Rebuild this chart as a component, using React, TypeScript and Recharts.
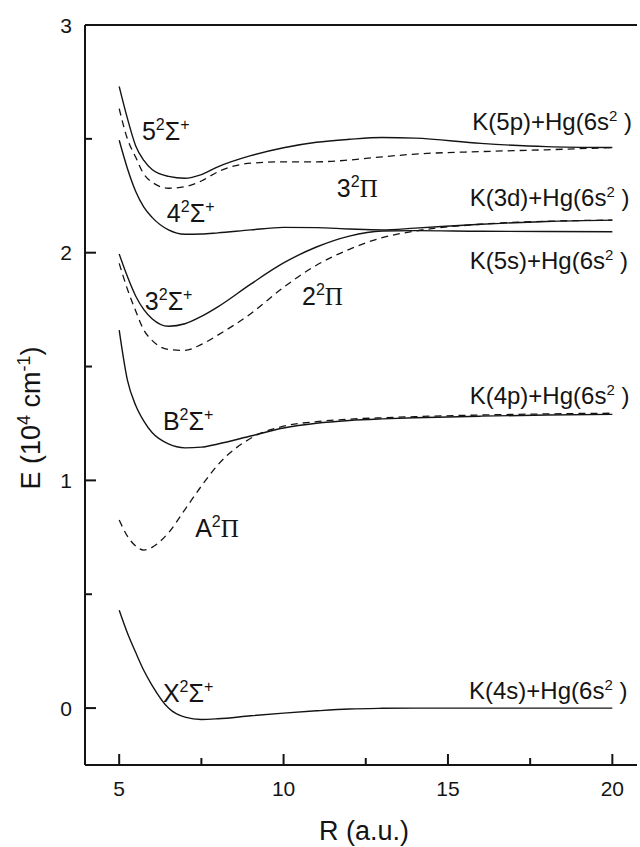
import { LineChart, Line, XAxis, YAxis, ReferenceLine, ReferenceDot } from 'recharts'

// internuclear distance R (a.u.)
const rGrid = [5, 5.25, 5.5, 5.75, 6, 6.5, 7, 7.5, 8, 9, 10, 11, 12, 13, 14, 16, 18, 20]

// potential energies, 10^4 cm^-1
const x2Sigma = [0.43, 0.33, 0.245, 0.165, 0.1, 0.0, -0.04, -0.05, -0.047, -0.034, -0.022, -0.012, -0.004, -0.001, 0, 0, 0, 0]
const a2Pi = [0.826, 0.755, 0.712, 0.694, 0.706, 0.77, 0.872, 0.975, 1.068, 1.185, 1.238, 1.258, 1.269, 1.275, 1.28, 1.287, 1.292, 1.295]
const b2Sigma = [1.66, 1.44, 1.33, 1.26, 1.21, 1.16, 1.143, 1.146, 1.16, 1.195, 1.23, 1.251, 1.263, 1.27, 1.275, 1.282, 1.287, 1.29]
const pi2 = [1.953, 1.84, 1.745, 1.66, 1.615, 1.575, 1.571, 1.597, 1.638, 1.732, 1.848, 1.945, 2.015, 2.066, 2.095, 2.125, 2.138, 2.143]
const sigma3 = [1.994, 1.895, 1.81, 1.75, 1.71, 1.677, 1.688, 1.72, 1.762, 1.862, 1.955, 2.025, 2.073, 2.095, 2.097, 2.094, 2.093, 2.092]
const sigma4 = [2.494, 2.37, 2.27, 2.2, 2.155, 2.1, 2.081, 2.082, 2.087, 2.1, 2.111, 2.11, 2.104, 2.1, 2.108, 2.125, 2.137, 2.143]
const pi3 = [2.633, 2.5, 2.42, 2.345, 2.31, 2.283, 2.29, 2.315, 2.355, 2.393, 2.399, 2.399, 2.407, 2.421, 2.433, 2.444, 2.452, 2.462]
const sigma5 = [2.73, 2.59, 2.47, 2.405, 2.365, 2.335, 2.327, 2.343, 2.377, 2.426, 2.461, 2.485, 2.498, 2.506, 2.503, 2.48, 2.466, 2.462]

const xTicks = [5, 7.5, 10, 12.5, 15, 17.5, 20]
const yTicks = [0, 0.5, 1, 1.5, 2, 2.5, 3]

// state names, anchored at (R, E) of the text baseline
const stateLabels = [
  { r: 5.69, e: 2.494, lead: '5', term: 'Σ', plus: true },
  { r: 6.45, e: 2.134, lead: '4', term: 'Σ', plus: true },
  { r: 11.62, e: 2.244, lead: '3', term: 'Π', plus: false },
  { r: 5.78, e: 1.748, lead: '3', term: 'Σ', plus: true },
  { r: 10.56, e: 1.77, lead: '2', term: 'Π', plus: false },
  { r: 6.33, e: 1.221, lead: 'B', term: 'Σ', plus: true },
  { r: 7.31, e: 0.751, lead: 'A', term: 'Π', plus: false },
  { r: 6.33, e: 0.026, lead: 'X', term: 'Σ', plus: true },
]

// dissociation limits
const limitLabels = [
  { r: 15.74, e: 2.538, atom: '5p' },
  { r: 15.66, e: 2.205, atom: '3d' },
  { r: 15.66, e: 1.928, atom: '5s' },
  { r: 15.66, e: 1.335, atom: '4p' },
  { r: 15.64, e: 0.04, atom: '4s' },
]

const data = rGrid.map((r, i) => ({
  r,
  x2Sigma: x2Sigma[i],
  a2Pi: a2Pi[i],
  b2Sigma: b2Sigma[i],
  pi2: pi2[i],
  sigma3: sigma3[i],
  sigma4: sigma4[i],
  pi3: pi3[i],
  sigma5: sigma5[i],
}))

const INK = '#141414'
const SANS = "'Liberation Sans', Arial, Helvetica, sans-serif"
const SERIF = "'Liberation Serif', 'Times New Roman', serif"

function StateText({ cx, cy, lead, term, plus }: any) {
  return (
    <text x={cx} y={cy} fontSize={25} fill={INK} fontFamily={SANS}>
      {lead}
      <tspan dy={-10} fontSize={16}>2</tspan>
      <tspan dy={10} fontFamily={term === 'Π' ? SERIF : SANS}>{term}</tspan>
      {plus && <tspan dy={-10} fontSize={16}>+</tspan>}
    </text>
  )
}

function LimitText({ cx, cy, atom }: any) {
  return (
    <text x={cx} y={cy} fontSize={24} fill={INK} fontFamily={SANS}>
      {`K(${atom})+Hg(6s`}
      <tspan dy={-9} fontSize={15}>2</tspan>
      <tspan dy={9}>{' )'}</tspan>
    </text>
  )
}

function YTick({ x, y, payload }: any) {
  const v = payload.value
  const major = Number.isInteger(v)
  return (
    <g>
      <line x1={x} x2={x + (major ? 11 : 7)} y1={y} y2={y} stroke={INK} strokeWidth={2} />
      {major && (
        <text x={x - 13} y={y + 7.5} textAnchor="end" fontSize={21} fill={INK} fontFamily={SANS}>
          {v}
        </text>
      )}
    </g>
  )
}

function XTick({ x, y, payload }: any) {
  const v = payload.value
  const major = v % 5 === 0
  return (
    <g>
      <line x1={x} x2={x} y1={y} y2={y - (major ? 11 : 7)} stroke={INK} strokeWidth={2} />
      {major && (
        <text x={x} y={y + 31} textAnchor="middle" fontSize={21} fill={INK} fontFamily={SANS}>
          {v}
        </text>
      )}
    </g>
  )
}

function XTitle({ viewBox }: any) {
  const { x, y, width } = viewBox
  return (
    <text x={x + width / 2 + 3} y={y + 75} textAnchor="middle" fontSize={27} fill={INK} fontFamily={SANS}>
      R (a.u.)
    </text>
  )
}

function YTitle({ viewBox }: any) {
  const { x, y, height } = viewBox
  const cx = x + 40
  const cy = y + height / 2 + 23
  return (
    <text
      x={cx}
      y={cy}
      transform={`rotate(-90, ${cx}, ${cy})`}
      textAnchor="middle"
      fontSize={27}
      fill={INK}
      fontFamily={SANS}
    >
      E (10
      <tspan dy={-10} fontSize={18}>4</tspan>
      <tspan dy={10}>{' cm'}</tspan>
      <tspan dy={-10} fontSize={18}>-1</tspan>
      <tspan dy={10}>)</tspan>
    </text>
  )
}

const solid = { stroke: INK, strokeWidth: 1.4 }
const dashed = { stroke: INK, strokeWidth: 1.3, strokeDasharray: '7 5' }

export default function App() {
  return (
    <div style={{ position: 'absolute', left: 0, top: 0, width: 640, height: 847, background: '#fff' }}>
      <LineChart width={640} height={847} data={data} margin={{ top: 25, right: 3, bottom: 0, left: 0 }}>
        <XAxis
          dataKey="r"
          type="number"
          domain={[3.96, 20.75]}
          ticks={xTicks}
          interval={0}
          height={82}
          tickSize={0}
          tickMargin={0}
          tickLine={false}
          axisLine={{ stroke: INK, strokeWidth: 2 }}
          tick={XTick}
          label={XTitle}
        />
        <YAxis
          type="number"
          domain={[-0.25, 3]}
          ticks={yTicks}
          interval={0}
          width={85}
          tickSize={0}
          tickMargin={0}
          tickLine={false}
          axisLine={{ stroke: INK, strokeWidth: 2 }}
          tick={YTick}
          label={YTitle}
        />
        <ReferenceLine y={3} stroke={INK} strokeWidth={2} />

        <Line dataKey="x2Sigma" type="monotone" dot={false} isAnimationActive={false} {...solid} />
        <Line dataKey="a2Pi" type="monotone" dot={false} isAnimationActive={false} {...dashed} />
        <Line dataKey="b2Sigma" type="monotone" dot={false} isAnimationActive={false} {...solid} />
        <Line dataKey="pi2" type="monotone" dot={false} isAnimationActive={false} {...dashed} />
        <Line dataKey="sigma3" type="monotone" dot={false} isAnimationActive={false} {...solid} />
        <Line dataKey="sigma4" type="monotone" dot={false} isAnimationActive={false} {...solid} />
        <Line dataKey="pi3" type="monotone" dot={false} isAnimationActive={false} {...dashed} />
        <Line dataKey="sigma5" type="monotone" dot={false} isAnimationActive={false} {...solid} />

        {stateLabels.map((l, i) => (
          <ReferenceDot
            key={'s' + i}
            x={l.r}
            y={l.e}
            r={0}
            ifOverflow="visible"
            shape={(p: any) => <StateText cx={p.cx} cy={p.cy} lead={l.lead} term={l.term} plus={l.plus} />}
          />
        ))}
        {limitLabels.map((l, i) => (
          <ReferenceDot
            key={'k' + i}
            x={l.r}
            y={l.e}
            r={0}
            ifOverflow="visible"
            shape={(p: any) => <LimitText cx={p.cx} cy={p.cy} atom={l.atom} />}
          />
        ))}
      </LineChart>
    </div>
  )
}
